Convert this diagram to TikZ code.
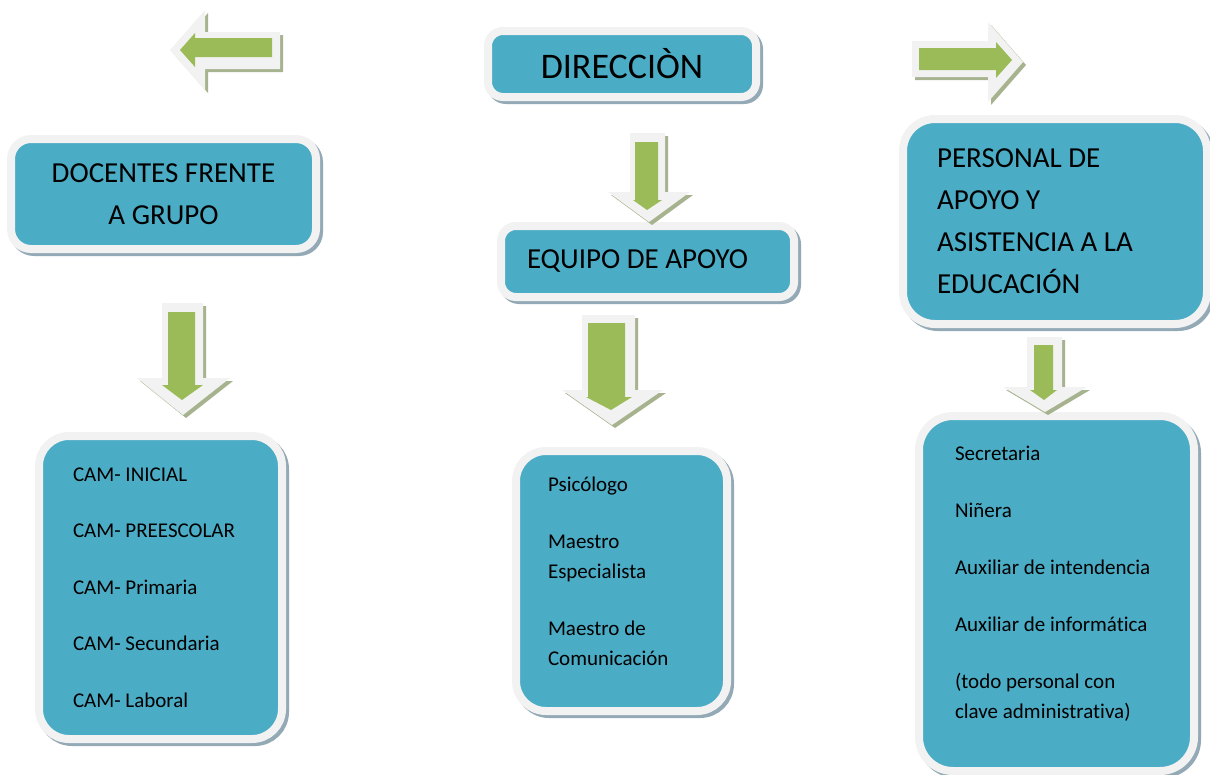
\documentclass[tikz,border=0pt]{standalone}
\usepackage{fontspec}
\setmainfont{Carlito}[Ligatures=NoCommon]
\usetikzlibrary{positioning}

\definecolor{cajaazul}{HTML}{4BACC6}
\definecolor{bordeclaro}{HTML}{F2F2F2}
\definecolor{sombraazul}{HTML}{93AAB6}
\definecolor{verde}{HTML}{9BBB59}
\definecolor{sombraverde}{HTML}{A6B38E}

\begin{document}
\begin{tikzpicture}
	% Styles
	[
	x=1pt, y=-1pt,
	caja/.style={rectangle, rounded corners=#1, fill=cajaazul, draw=bordeclaro, line width=8pt, inner sep=0pt, text=black,
		preaction={fill=sombraazul, draw=sombraazul, transform canvas={shift={(3pt,-3pt)}}}},
	caja/.default=15pt,
	titulo/.style={font=\fontsize{29}{42}\selectfont},
	lista/.style={font=\fontsize{21}{30}\selectfont, align=flush left},
	flechafondo/.style={fill=bordeclaro, preaction={fill=sombraverde, transform canvas={shift={(3pt,-3pt)}}}},
	flechaverde/.style={fill=verde},
	]

	\useasboundingbox (0,0) rectangle (1210,774);

	% Nodes
	\node at (622,64)	(dir)	[caja, minimum width=268pt, minimum height=66pt, font=\fontsize{36}{40}\selectfont] {DIRECCIÒN};
	\node at (647.5,261.5)	(equipo)	[caja, titulo, minimum width=293pt, minimum height=71pt, text width=241pt, align=flush left] {EQUIPO DE APOYO};
	\node at (163.5,194)	(docentes)	[caja=20pt, titulo, minimum width=305pt, minimum height=110pt, align=center] {DOCENTES FRENTE\\A GRUPO};
	\node at (1055,221.5)	(personal)	[caja=32pt, titulo, minimum width=304pt, minimum height=205pt, text width=236pt, align=flush left] {PERSONAL DE\\APOYO Y\\ASISTENCIA A LA\\EDUCACIÓN};

	\node at (160.5,587.5)	(cam)	[caja=30pt, lista, minimum width=243pt, minimum height=303pt, text width=175pt]
		{CAM- INICIAL\\[26.5pt]CAM- PREESCOLAR\\[26.5pt]CAM- Primaria\\[26.5pt]CAM- Secundaria\\[26.5pt]CAM- Laboral};
	\node at (621.5,581)	(psic)	[caja=30pt, lista, minimum width=211pt, minimum height=260pt, text width=147pt]
		{Psicólogo\\[27pt]Maestro\\Especialista\\[27pt]Maestro de\\Comunicación\\[-11pt]\mbox{}};
	\node at (1056.5,593.5)	(secre)	[caja=34pt, lista, minimum width=275pt, minimum height=355pt, text width=203pt]
		{Secretaria\\[27pt]Niñera\\[27pt]Auxiliar de intendencia\\[27pt]Auxiliar de informática\\[27pt](todo personal con\\clave administrativa)\\[-7pt]\mbox{}};

	% Arrows
	\fill[flechafondo] (170,50) -- (205,10) -- (205,32) -- (280,32) -- (280,69) -- (205,69) -- (205,90) -- cycle;
	\fill[flechaverde] (180,50) -- (195,33) -- (195,38) -- (272,38) -- (272,57) -- (195,57) -- (195,67) -- cycle;

	\fill[flechafondo] (1023,62) -- (988,22) -- (988,41) -- (912,41) -- (912,77) -- (988,77) -- (988,102) -- cycle;
	\fill[flechaverde] (1012,60) -- (996,42) -- (996,48) -- (919,48) -- (919,70) -- (996,70) -- (996,78) -- cycle;

	\fill[flechafondo] (649,222) -- (608,192) -- (630,192) -- (630,133) -- (665,133) -- (665,192) -- (690,192) -- cycle;
	\fill[flechaverde] (647,210) -- (633,200) -- (635,200) -- (635,142) -- (658,142) -- (658,200) -- (662,200) -- cycle;

	\fill[flechafondo] (183,415) -- (137,378) -- (162,378) -- (162,303) -- (203,303) -- (203,378) -- (230,378) -- cycle;
	\fill[flechaverde] (182,400) -- (162,385) -- (168,385) -- (168,312) -- (195,312) -- (195,385) -- (203,385) -- cycle;

	\fill[flechafondo] (612,425) -- (562,390) -- (582,390) -- (582,315) -- (635,315) -- (635,390) -- (663,390) -- cycle;
	\fill[flechaverde] (611,410) -- (586,397) -- (588,397) -- (588,323) -- (625,323) -- (625,397) -- (632,397) -- cycle;

	\fill[flechafondo] (1045,412) -- (1003,387) -- (1027,387) -- (1027,337) -- (1062,337) -- (1062,387) -- (1087,387) -- cycle;
	\fill[flechaverde] (1044,400) -- (1030,390) -- (1034,390) -- (1034,345) -- (1053,345) -- (1053,390) -- (1057,390) -- cycle;

\end{tikzpicture}
\end{document}
